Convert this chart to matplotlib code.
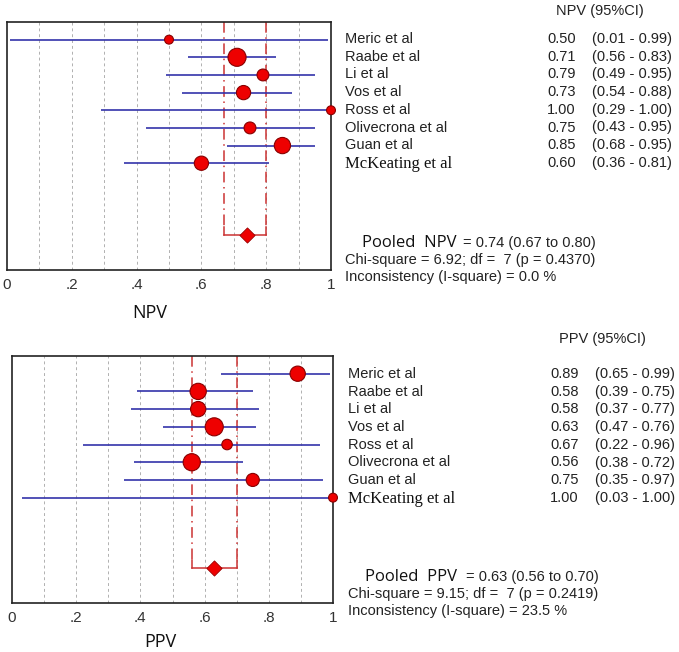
import matplotlib
matplotlib.use('Agg')
import matplotlib.pyplot as plt

studies = ['Meric et al', 'Raabe et al', 'Li et al', 'Vos et al', 'Ross et al',
           'Olivecrona et al', 'Guan et al', 'McKeating et al']

npv = [0.50, 0.71, 0.79, 0.73, 1.00, 0.75, 0.85, 0.60]
npv_lo = [0.01, 0.56, 0.49, 0.54, 0.29, 0.43, 0.68, 0.36]
npv_hi = [0.99, 0.83, 0.95, 0.88, 1.00, 0.95, 0.95, 0.81]
npv_weight = [1, 9, 3, 5, 1, 3, 7, 5]
npv_pooled = [0.74, 0.67, 0.80]
npv_stats = ['Chi-square = 6.92; df =  7 (p = 0.4370)',
             'Inconsistency (I-square) = 0.0 %']

ppv = [0.89, 0.58, 0.58, 0.63, 0.67, 0.56, 0.75, 1.00]
ppv_lo = [0.65, 0.39, 0.37, 0.47, 0.22, 0.38, 0.35, 0.03]
ppv_hi = [0.99, 0.75, 0.77, 0.76, 0.96, 0.72, 0.97, 1.00]
ppv_weight = [6, 7, 6, 9, 2, 8, 4, 1]
ppv_pooled = [0.63, 0.56, 0.70]
ppv_stats = ['Chi-square = 9.15; df =  7 (p = 0.2419)',
             'Inconsistency (I-square) = 23.5 %']

ticks = [0, 0.2, 0.4, 0.6, 0.8, 1.0]
tick_labels = ['0', '.2', '.4', '.6', '.8', '1']

W, H = 679, 652
fig = plt.figure(figsize=(W / 100, H / 100), dpi=100)
SANS = 'Liberation Sans'


def px(x, y):
    return x / W, 1 - y / H


def forest(box, est, lo, hi, weight, pooled, ytop, pooled_y):
    left, top, right, bottom = box
    ax = fig.add_axes([left / W, 1 - bottom / H, (right - left) / W, (bottom - top) / H])
    rows = list(range(1, len(est) + 1))
    for g in [0.1, 0.2, 0.3, 0.4, 0.5, 0.6, 0.7, 0.8, 0.9]:
        ax.axvline(g, color='#b0b0b0', lw=0.7, ls=(0, (3, 3)), zorder=1)
    p, plo, phi = pooled
    for v in (plo, phi):
        ax.plot([v, v], [0, pooled_y - 0.45], color='#cc3333', lw=1.1,
                ls=(0, (7, 3, 1, 3)), zorder=2)
        ax.plot([v, v], [pooled_y - 0.45, pooled_y], color='#cc3333', lw=1.1, zorder=2)
    ax.plot([plo, phi], [pooled_y, pooled_y], color='#cc3333', lw=1.1, zorder=2)
    ax.scatter([p], [pooled_y], marker='D', s=60, color='#ee0000',
               edgecolor='#990000', lw=0.6, zorder=4)
    ax.hlines(rows, lo, hi, color='#3333aa', lw=1.2, zorder=3)
    sizes = [25 + 16 * w for w in weight]
    ax.scatter(est, rows, s=sizes, color='#ee0000', edgecolor='#880000',
               lw=0.8, zorder=4, clip_on=False)
    ax.set_xlim(0, 1)
    ax.set_ylim(ytop, 0)
    ax.set_yticks([])
    ax.set_xticks(ticks)
    ax.set_xticklabels(tick_labels, fontsize=11, family=SANS, color='#333333')
    ax.tick_params(axis='x', length=0, pad=6)
    for s in ax.spines.values():
        s.set_linewidth(1.2)
        s.set_color('#222222')
    return ax


def side_text(name, est, lo, hi, pooled, stats, x0, y_header, y_rows, y_pool, label):
    fig.text(*px(x0 + 211, y_header), name + ' (95%CI)', fontsize=10.5, family=SANS,
             color='#222222', va='center')
    for i, s in enumerate(studies):
        y = y_rows[i]
        if s.startswith('McKeating'):
            fig.text(*px(x0, y + 1), s, fontsize=12, family='Liberation Serif',
                     color='#111111', va='center')
        else:
            fig.text(*px(x0, y), s, fontsize=10.5, family=SANS, color='#222222', va='center')
        fig.text(*px(x0 + 202, y), '%.2f' % est[i], fontsize=10.5, family=SANS,
                 color='#222222', va='center')
        fig.text(*px(x0 + 247, y), '(%.2f - %.2f)' % (lo[i], hi[i]), fontsize=10.5,
                 family=SANS, color='#222222', va='center')
    p, plo, phi = pooled
    fig.text(*px(x0 + 17, y_pool), 'Pooled  ' + label, fontsize=12, family='Open Sans',
             color='#111111', va='center')
    fig.text(*px(x0 + 118, y_pool), '= %.2f (%.2f to %.2f)' % (p, plo, phi),
             fontsize=10.5, family=SANS, color='#222222', va='center')
    fig.text(*px(x0, y_pool + 17), stats[0], fontsize=10.5, family=SANS,
             color='#222222', va='center')
    fig.text(*px(x0, y_pool + 34), stats[1], fontsize=10.5, family=SANS,
             color='#222222', va='center')


forest((7, 22, 331, 270), npv, npv_lo, npv_hi, npv_weight, npv_pooled, 14.05, 12.07)
forest((12, 356, 333, 603), ppv, ppv_lo, ppv_hi, ppv_weight, ppv_pooled, 13.95, 11.95)

side_text('NPV', npv, npv_lo, npv_hi, npv_pooled, npv_stats, 345, 11,
          [39 + 17.7 * i for i in range(8)], 243, 'NPV')
side_text('PPV', ppv, ppv_lo, ppv_hi, ppv_pooled, ppv_stats, 348, 339,
          [374 + 17.7 * i for i in range(8)], 577, 'PPV')

fig.text(*px(150, 313), 'NPV', fontsize=13, family='Open Sans', color='#111111',
         ha='center', va='center')
fig.text(*px(160, 642), 'PPV', fontsize=13, family='Open Sans', color='#111111',
         ha='center', va='center')

fig.savefig('out.png', dpi=100)
